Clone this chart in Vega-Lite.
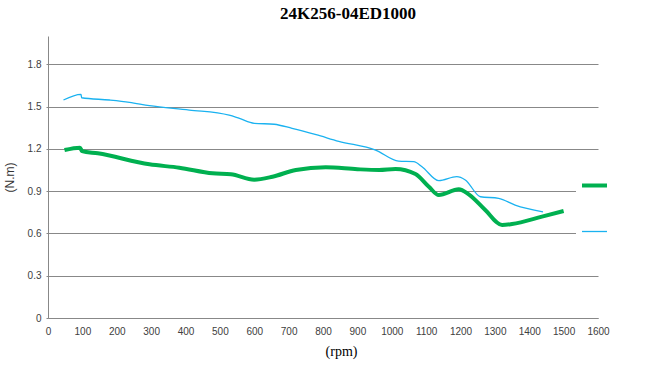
{
  "$schema": "https://vega.github.io/schema/vega-lite/v6.json",
  "autosize": "none",
  "width": 550,
  "height": 282,
  "padding": {"left": 48, "top": 36, "right": 48, "bottom": 52},
  "background": "white",
  "title": {
    "text": "24K256-04ED1000",
    "font": "Liberation Serif",
    "fontSize": 17,
    "fontWeight": "bold",
    "color": "#000000",
    "anchor": "middle",
    "dx": 25,
    "offset": 13
  },
  "config": {
    "view": {"stroke": null},
    "axis": {
      "labelFont": "Liberation Sans",
      "labelFontSize": 10,
      "labelColor": "#404040",
      "domainColor": "#888888",
      "gridColor": "#888888",
      "gridWidth": 1,
      "domainWidth": 1
    }
  },
  "data": {
    "values": [
      {"curve": "A", "rpm": 48, "torque": 1.191},
      {"curve": "A", "rpm": 93, "torque": 1.208},
      {"curve": "A", "rpm": 99, "torque": 1.184},
      {"curve": "A", "rpm": 145, "torque": 1.168},
      {"curve": "A", "rpm": 295, "torque": 1.090},
      {"curve": "A", "rpm": 382, "torque": 1.066},
      {"curve": "A", "rpm": 479, "torque": 1.026},
      {"curve": "A", "rpm": 532, "torque": 1.019},
      {"curve": "A", "rpm": 600, "torque": 0.981},
      {"curve": "A", "rpm": 653, "torque": 1.002},
      {"curve": "A", "rpm": 721, "torque": 1.050},
      {"curve": "A", "rpm": 808, "torque": 1.069},
      {"curve": "A", "rpm": 900, "torque": 1.055},
      {"curve": "A", "rpm": 963, "torque": 1.050},
      {"curve": "A", "rpm": 1011, "torque": 1.057},
      {"curve": "A", "rpm": 1069, "torque": 1.021},
      {"curve": "A", "rpm": 1108, "torque": 0.931},
      {"curve": "A", "rpm": 1137, "torque": 0.872},
      {"curve": "A", "rpm": 1195, "torque": 0.913},
      {"curve": "A", "rpm": 1224, "torque": 0.877},
      {"curve": "A", "rpm": 1272, "torque": 0.766},
      {"curve": "A", "rpm": 1321, "torque": 0.660},
      {"curve": "A", "rpm": 1350, "torque": 0.667},
      {"curve": "A", "rpm": 1437, "torque": 0.719},
      {"curve": "A", "rpm": 1500, "torque": 0.759},
      {"curve": "B", "rpm": 45, "torque": 1.546},
      {"curve": "B", "rpm": 96, "torque": 1.586},
      {"curve": "B", "rpm": 98, "torque": 1.562},
      {"curve": "B", "rpm": 179, "torque": 1.546},
      {"curve": "B", "rpm": 237, "torque": 1.530},
      {"curve": "B", "rpm": 295, "torque": 1.506},
      {"curve": "B", "rpm": 411, "torque": 1.475},
      {"curve": "B", "rpm": 527, "torque": 1.438},
      {"curve": "B", "rpm": 557, "torque": 1.415},
      {"curve": "B", "rpm": 600, "torque": 1.381},
      {"curve": "B", "rpm": 658, "torque": 1.374},
      {"curve": "B", "rpm": 710, "torque": 1.345},
      {"curve": "B", "rpm": 780, "torque": 1.300},
      {"curve": "B", "rpm": 846, "torque": 1.253},
      {"curve": "B", "rpm": 953, "torque": 1.191},
      {"curve": "B", "rpm": 1020, "torque": 1.113},
      {"curve": "B", "rpm": 1064, "torque": 1.109},
      {"curve": "B", "rpm": 1088, "torque": 1.073},
      {"curve": "B", "rpm": 1137, "torque": 0.974},
      {"curve": "B", "rpm": 1189, "torque": 1.002},
      {"curve": "B", "rpm": 1214, "torque": 0.979},
      {"curve": "B", "rpm": 1258, "torque": 0.860},
      {"curve": "B", "rpm": 1311, "torque": 0.849},
      {"curve": "B", "rpm": 1359, "torque": 0.801},
      {"curve": "B", "rpm": 1440, "torque": 0.752}
    ]
  },
  "mark": {"type": "line", "interpolate": "monotone", "strokeCap": "butt"},
  "encoding": {
    "x": {
      "field": "rpm",
      "type": "quantitative",
      "scale": {"domain": [0, 1600], "nice": false, "zero": true},
      "axis": {
        "values": [0, 100, 200, 300, 400, 500, 600, 700, 800, 900, 1000, 1100, 1200, 1300, 1400, 1500, 1600],
        "format": "d",
        "grid": false,
        "ticks": false,
        "labelPadding": 8,
        "labelFlush": false,
        "labelOverlap": false,
        "title": "(rpm)",
        "titleFont": "Liberation Serif",
        "titleFontSize": 14,
        "titleFontWeight": "normal",
        "titleColor": "#000000",
        "titlePadding": 8,
        "titleX": 293
      }
    },
    "y": {
      "field": "torque",
      "type": "quantitative",
      "scale": {"domain": [0, 2.0], "nice": false},
      "axis": {
        "values": [0, 0.3, 0.6, 0.9, 1.2, 1.5, 1.8],
        "format": ".1~f",
        "grid": true,
        "ticks": true,
        "tickSize": 2,
        "tickColor": "#888888",
        "labelPadding": 5,
        "title": "(N.m)",
        "titleFont": "Liberation Sans",
        "titleFontSize": 12,
        "titleFontWeight": "normal",
        "titleColor": "#333333",
        "titlePadding": 11
      }
    },
    "color": {
      "field": "curve",
      "type": "nominal",
      "scale": {"domain": ["A", "B"], "range": ["#00b050", "#1ab2f0"]},
      "legend": {
        "orient": "none",
        "legendX": 528,
        "legendY": 131,
        "title": null,
        "labelExpr": "''",
        "labelLimit": 1,
        "labelOffset": 0,
        "symbolType": "stroke",
        "symbolSize": 625,
        "rowPadding": 24,
        "padding": 4,
        "fillColor": "white",
        "strokeColor": null
      }
    },
    "strokeWidth": {
      "field": "curve",
      "type": "nominal",
      "scale": {"domain": ["A", "B"], "range": [4, 1.3]},
      "legend": {
        "orient": "none",
        "legendX": 528,
        "legendY": 131,
        "title": null,
        "labelExpr": "''",
        "labelLimit": 1,
        "labelOffset": 0,
        "symbolType": "stroke",
        "symbolSize": 625,
        "rowPadding": 24,
        "padding": 4,
        "fillColor": "white",
        "strokeColor": null
      }
    }
  }
}
